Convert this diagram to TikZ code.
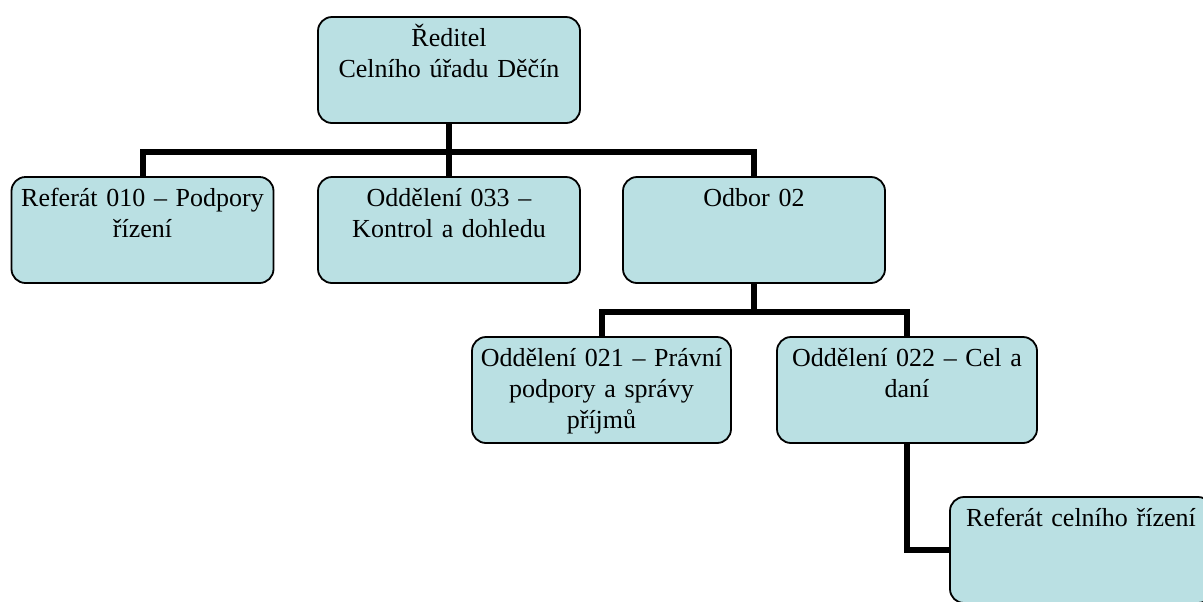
\documentclass[tikz,border=0pt]{standalone}
\usepackage{fontspec}
\setmainfont{Liberation Serif}
\usepackage{xcolor}
\definecolor{unitFill}{HTML}{BAE0E3}
\definecolor{unitBorder}{HTML}{000000}
\usetikzlibrary{positioning,calc}
\tikzset{
    unit/.style={
        draw=unitBorder,
        fill=unitFill,
        rectangle,
        rounded corners=7pt,
        minimum width=131pt,
        minimum height=53pt,
        inner sep=0pt,
        line width=0.9pt
    },
    unittext/.style={
        anchor=north,
        align=center,
        text width=126pt,
        inner sep=0pt,
        font=\fontsize{13}{15.5}\selectfont,
        execute at begin node={\rule{0pt}{15pt}}
    },
    link/.style={
        line width=3pt,
        color=black,
        line join=miter
    }
}
\begin{document}
\begin{tikzpicture}[x=0.5pt,y=-0.5pt]
    \useasboundingbox (0,0) rectangle (1203,601);
    \clip (0,0) rectangle (1203,601);

    % Links
    \coordinate (bartop) at (449,152);
    \coordinate (barmid) at (754,312);

    % Boxes
    \node[unit] (reditel) at (449,70) {};
    \node[unit] (ref010) at (142.5,230) {};
    \node[unit] (odd033) at (449,230) {};
    \node[unit] (odbor02) at (754,230) {};
    \node[unit, minimum width=129.5pt] (odd021) at (601.5,390) {};
    \node[unit, minimum width=130pt] (odd022) at (907,390) {};
    \node[unit] (refcel) at (1081,550) {};

    % Connectors
    \draw[link] (reditel.south) -- (bartop) -| (ref010.north);
    \draw[link] (bartop) -- (odd033.north);
    \draw[link] (bartop) -| (odbor02.north);
    \draw[link] (odbor02.south) -- (barmid) -| (odd021.north);
    \draw[link] (barmid) -| (odd022.north);
    \draw[link] (odd022.south) |- (refcel.west);

    % Labels
    \node[unittext] (reditelT) at (reditel.north) {Ředitel\\Celního úřadu Děčín};
    \node[unittext] (ref010T) at (ref010.north) {Referát 010 – Podpory\\řízení};
    \node[unittext] (odd033T) at (odd033.north) {Oddělení 033 –\\Kontrol a dohledu};
    \node[unittext] (odbor02T) at (odbor02.north) {Odbor 02};
    \node[unittext] (odd021T) at (odd021.north) {Oddělení 021 – Právní\\podpory a správy\\příjmů};
    \node[unittext] (odd022T) at (odd022.north) {Oddělení 022 – Cel a\\daní};
    \node[unittext] (refcelT) at (refcel.north) {Referát celního řízení};
\end{tikzpicture}
\end{document}
